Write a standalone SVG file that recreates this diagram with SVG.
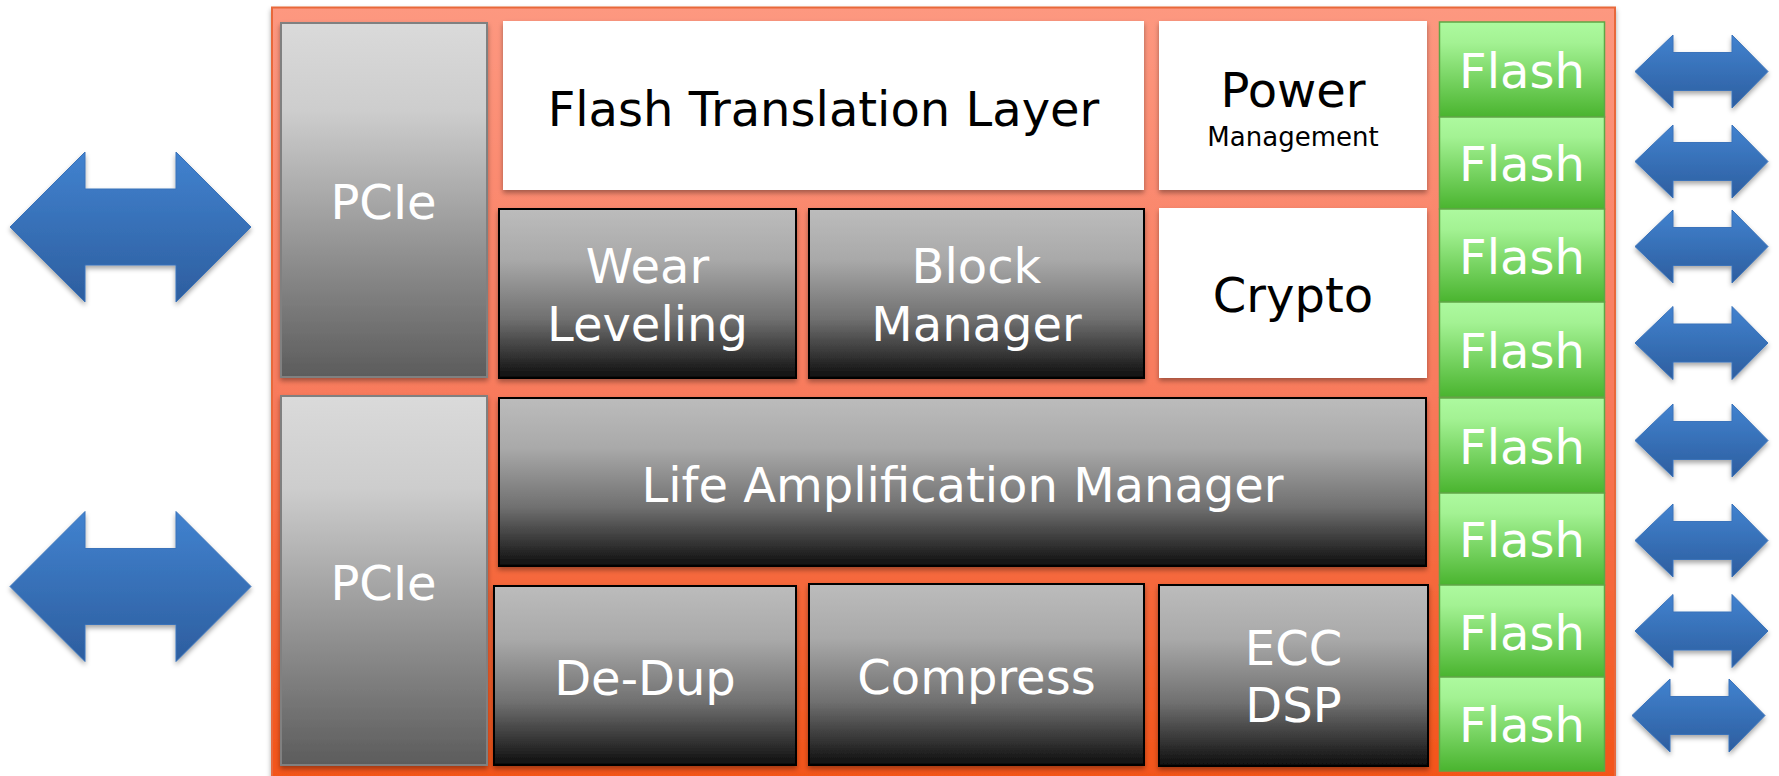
<svg xmlns="http://www.w3.org/2000/svg" width="1779" height="776" viewBox="0 0 1779 776">
<defs>
  <linearGradient id="gOuter" x1="0" y1="0" x2="0" y2="1">
    <stop offset="0" stop-color="#FD9880"/>
    <stop offset="0.5" stop-color="#F87A5C"/>
    <stop offset="1" stop-color="#F35418"/>
  </linearGradient>
  <linearGradient id="gPcie" x1="0" y1="0" x2="0" y2="1">
    <stop offset="0" stop-color="#DADADA"/>
    <stop offset="0.25" stop-color="#CDCDCD"/>
    <stop offset="1" stop-color="#5C5C5C"/>
  </linearGradient>
  <linearGradient id="gDark" x1="0" y1="0" x2="0" y2="1">
    <stop offset="0" stop-color="#BCBCBC"/>
    <stop offset="0.3" stop-color="#A9A9A9"/>
    <stop offset="0.65" stop-color="#707070"/>
    <stop offset="1" stop-color="#0E0E0E"/>
  </linearGradient>
  <linearGradient id="gFlash" x1="0" y1="0" x2="0" y2="1">
    <stop offset="0" stop-color="#ADFA9F"/>
    <stop offset="0.22" stop-color="#A3F293"/>
    <stop offset="1" stop-color="#4AB42F"/>
  </linearGradient>
  <linearGradient id="gArrow" x1="0" y1="0" x2="0" y2="1">
    <stop offset="0" stop-color="#4182CF"/>
    <stop offset="1" stop-color="#2D5E9F"/>
  </linearGradient>
  <filter id="shadow" x="-10%" y="-10%" width="120%" height="130%">
    <feDropShadow dx="0" dy="3" stdDeviation="2.5" flood-color="#000" flood-opacity="0.35"/>
  </filter>
  <style>
    text { font-family: "DejaVu Sans", Verdana, sans-serif; text-anchor: middle; }
    .lt { fill: #FFFFFF; font-size: 48px; }
    .dt { fill: #000000; font-size: 48px; }
    .sm { fill: #000000; font-size: 26px; }
    .pcie { fill: url(#gPcie); stroke: #808080; stroke-width: 2; filter: url(#shadow); }
    .dark { fill: url(#gDark); stroke: #000; stroke-width: 2; filter: url(#shadow); }
    .white { fill: #FFFFFF; filter: url(#shadow); }
    .flash { fill: url(#gFlash); stroke: #5FA646; stroke-width: 1.5; }
    .arrow { fill: url(#gArrow); stroke: #3A73BA; stroke-width: 1; filter: url(#shadow); }
  </style>
  <path id="ra" d="M0,0 L38,-36.5 L38,-19 L97,-19 L97,-36.5 L133,0 L97,36.5 L97,19 L38,19 L38,36.5 Z"/>
  <path id="la" d="M0,0 L75,-75 L75,-38 L166,-38 L166,-75 L241,0 L166,75 L166,38 L75,38 L75,75 Z"/>
</defs>

<g id="outer">
  <rect x="272" y="7.5" width="1343" height="775" fill="url(#gOuter)" stroke="#E8683A" stroke-width="2" filter="url(#shadow)"/>
</g>

<g id="pcie-top">
  <rect class="pcie" x="281" y="23" width="206" height="354"/>
  <text class="lt" x="383.5" y="219">PCIe</text>
</g>
<g id="pcie-bottom">
  <rect class="pcie" x="281" y="396" width="206" height="369"/>
  <text class="lt" x="383.5" y="600">PCIe</text>
</g>

<g id="ftl">
  <rect class="white" x="503" y="21" width="641" height="169"/>
  <text class="dt" x="823.5" y="126">Flash Translation Layer</text>
</g>
<g id="power">
  <rect class="white" x="1159" y="21" width="268" height="169"/>
  <text class="dt" x="1293" y="107">Power</text>
  <text class="sm" x="1293" y="146">Management</text>
</g>
<g id="wear">
  <rect class="dark" x="499" y="209" width="297" height="169"/>
  <text class="lt" x="647.5" y="283">Wear</text>
  <text class="lt" x="647.5" y="341">Leveling</text>
</g>
<g id="block">
  <rect class="dark" x="809" y="209" width="335" height="169"/>
  <text class="lt" x="976.5" y="283">Block</text>
  <text class="lt" x="976.5" y="341">Manager</text>
</g>
<g id="crypto">
  <rect class="white" x="1159" y="208" width="268" height="170"/>
  <text class="dt" x="1293" y="312">Crypto</text>
</g>
<g id="lam">
  <rect class="dark" x="499" y="398" width="927" height="168"/>
  <text class="lt" x="962.5" y="502">Life Amplification Manager</text>
</g>
<g id="dedup">
  <rect class="dark" x="494" y="586" width="302" height="179"/>
  <text class="lt" x="645" y="695">De-Dup</text>
</g>
<g id="compress">
  <rect class="dark" x="809" y="584" width="335" height="181"/>
  <text class="lt" x="976.5" y="694">Compress</text>
</g>
<g id="ecc">
  <rect class="dark" x="1159" y="585" width="269" height="181"/>
  <text class="lt" x="1293.5" y="665">ECC</text>
  <text class="lt" x="1293.5" y="722">DSP</text>
</g>

<g id="flash1"><rect class="flash" x="1439.5" y="22" width="165" height="95"/><text class="lt" x="1522" y="88">Flash</text></g>
<g id="flash2"><rect class="flash" x="1439.5" y="117" width="165" height="92"/><text class="lt" x="1522" y="181">Flash</text></g>
<g id="flash3"><rect class="flash" x="1439.5" y="209" width="165" height="93"/><text class="lt" x="1522" y="274">Flash</text></g>
<g id="flash4"><rect class="flash" x="1439.5" y="302" width="165" height="95"/><text class="lt" x="1522" y="368">Flash</text></g>
<g id="flash5"><rect class="flash" x="1439.5" y="398" width="165" height="95"/><text class="lt" x="1522" y="464">Flash</text></g>
<g id="flash6"><rect class="flash" x="1439.5" y="493" width="165" height="92"/><text class="lt" x="1522" y="557">Flash</text></g>
<g id="flash7"><rect class="flash" x="1439.5" y="585" width="165" height="92"/><text class="lt" x="1522" y="650">Flash</text></g>
<g id="flash8"><rect class="flash" x="1439.5" y="677" width="165" height="94"/><text class="lt" x="1522" y="742">Flash</text></g>

<g id="connectors">
  <use href="#la" class="arrow" x="10" y="227"/>
  <use href="#la" class="arrow" x="10" y="586.5"/>
  <use href="#ra" class="arrow" x="1635" y="71.5"/>
  <use href="#ra" class="arrow" x="1635" y="161.5"/>
  <use href="#ra" class="arrow" x="1635" y="246.5"/>
  <use href="#ra" class="arrow" x="1635" y="343"/>
  <use href="#ra" class="arrow" x="1635" y="440.5"/>
  <use href="#ra" class="arrow" x="1635" y="540.5"/>
  <use href="#ra" class="arrow" x="1635" y="631"/>
  <use href="#ra" class="arrow" x="1632" y="715.5"/>
</g>
</svg>
